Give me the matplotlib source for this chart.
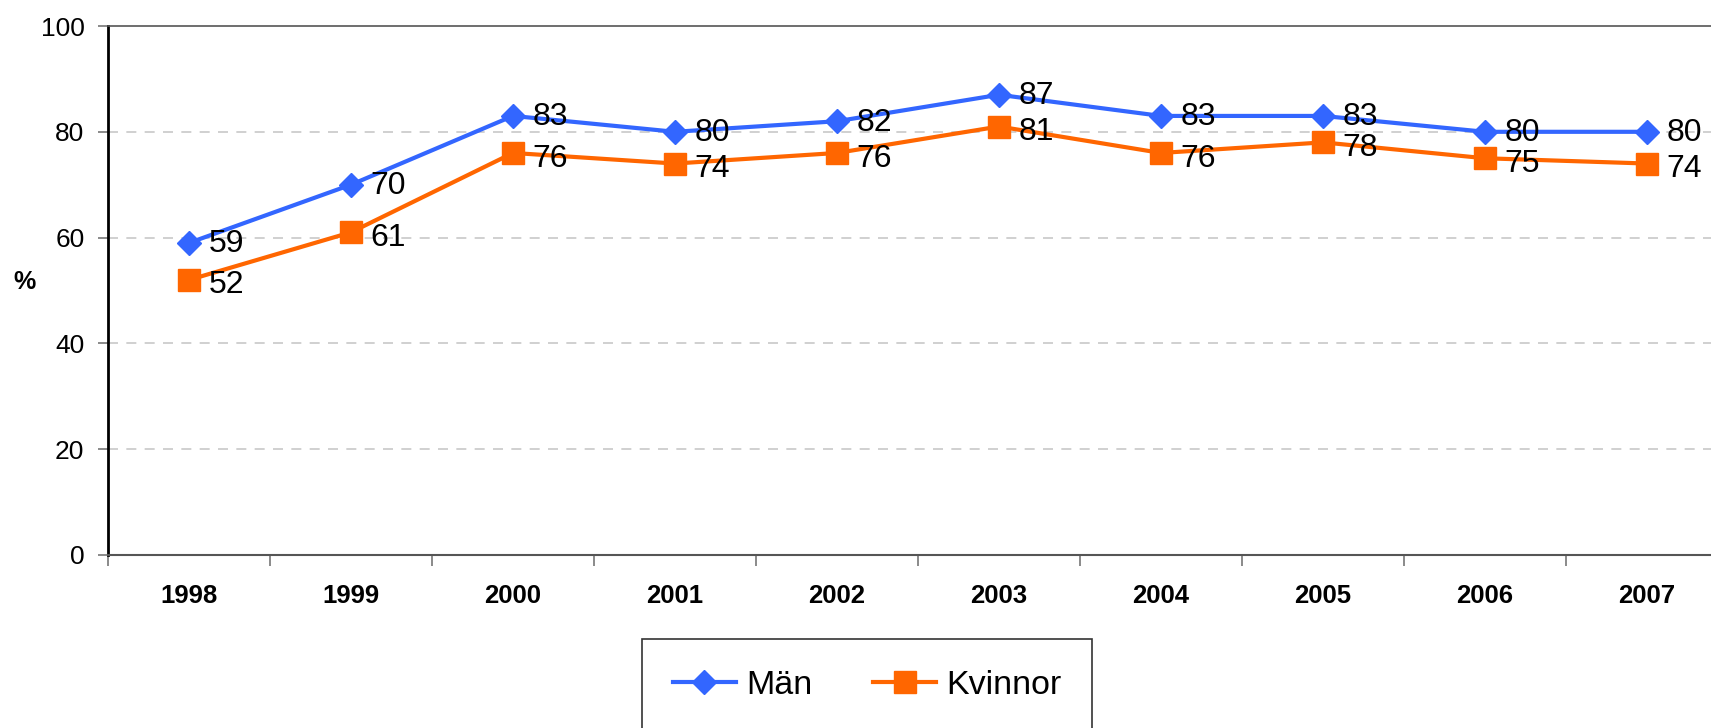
import matplotlib
matplotlib.use('Agg')
import matplotlib.pyplot as plt
import numpy as np

years = ['1998', '1999', '2000', '2001', '2002', '2003', '2004', '2005', '2006', '2007']
man = [59, 70, 83, 80, 82, 87, 83, 83, 80, 80]
kvinnor = [52, 61, 76, 74, 76, 81, 76, 78, 75, 74]

plt.rcParams['font.family'] = ['Liberation Sans', 'DejaVu Sans']

fig = plt.figure(figsize=(17.11, 7.28), dpi=100)
ax = fig.add_axes([108 / 1711, 1 - 555 / 728, 1620 / 1711, 529 / 728])

x = np.arange(len(years))
blue = '#3366ff'
orange = '#ff6600'

ax.plot(x, man, color=blue, lw=3, marker='D', ms=12, label='Män', zorder=3)
ax.plot(x, kvinnor, color=orange, lw=3, marker='s', ms=16, label='Kvinnor', zorder=3)

# value labels to the right of each point
for xi, v in zip(x, man):
    ax.annotate(str(v), (xi, v), xytext=(14, -1), textcoords='offset points',
                fontsize=23, va='center', ha='left', zorder=4)
for xi, v in zip(x, kvinnor):
    ax.annotate(str(v), (xi, v), xytext=(14, -4), textcoords='offset points',
                fontsize=23, va='center', ha='left', zorder=4)

ax.set_xlim(-0.5, 9.5)
ax.set_ylim(0, 100)
ax.set_yticks([0, 20, 40, 60, 80, 100])
ax.tick_params(axis='y', labelsize=19, length=7, width=1.2, color='#777777', pad=10)

ax.set_xticks(x)
ax.set_xticklabels(years, fontsize=18.5, fontweight='bold')
ax.set_xticks(np.arange(-0.5, 10, 1), minor=True)
ax.tick_params(axis='x', which='major', length=0, pad=21)
ax.tick_params(axis='x', which='minor', length=8, width=1.2, color='#777777')

for y in [20, 40, 60, 80]:
    ax.axhline(y, color='#c8c8c8', lw=1.2, ls=(0, (6, 5)), zorder=1)

ax.spines['left'].set_color('black')
ax.spines['left'].set_linewidth(2)
ax.spines['bottom'].set_color('#555555')
ax.spines['bottom'].set_linewidth(1.5)
ax.spines['top'].set_color('#555555')
ax.spines['top'].set_linewidth(1.2)
ax.spines['right'].set_visible(False)

fig.text(24 / 1711, 1 - 282 / 728, '%', fontsize=18, fontweight='bold', ha='center', va='center')

leg = fig.legend(loc='upper left', bbox_to_anchor=(642 / 1711, 1 - 639 / 728), ncol=2,
                 fontsize=24.5, frameon=True, fancybox=False, edgecolor='black',
                 handlelength=1.85, handletextpad=0.3, columnspacing=1.8,
                 borderpad=0.9, borderaxespad=0)
leg.get_frame().set_linewidth(1.2)

plt.savefig('out.png', dpi=100)
